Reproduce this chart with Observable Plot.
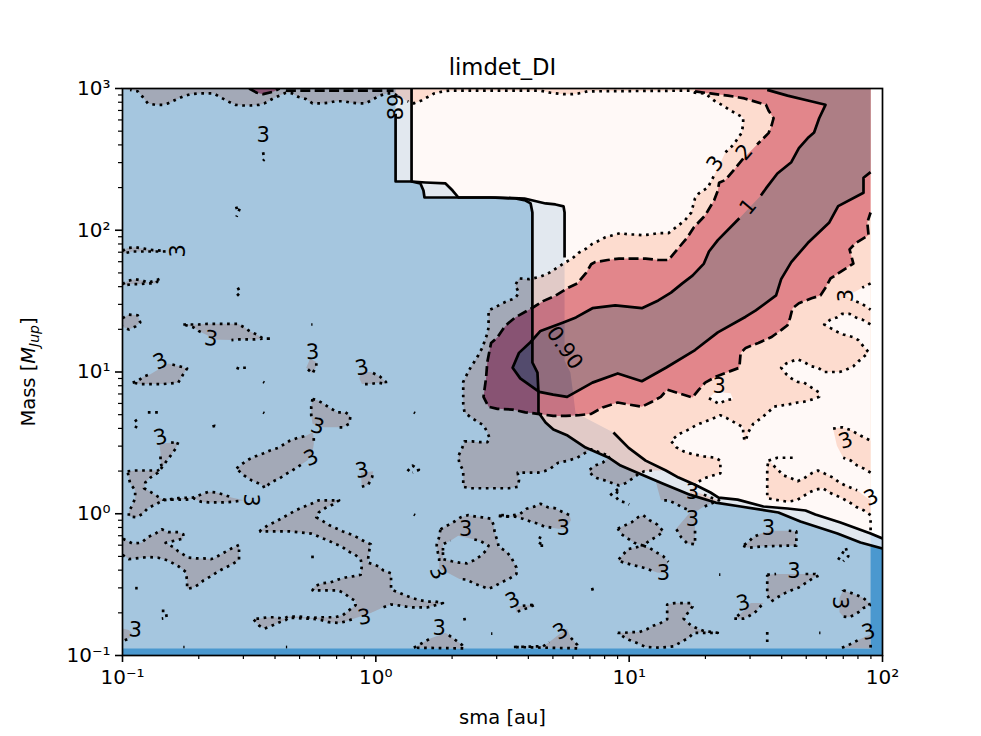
<!DOCTYPE html>
<html><head><meta charset="utf-8">
<style>html,body{margin:0;padding:0;background:#fff}svg{display:block}</style>
<script src="https://cdn.jsdelivr.net/npm/d3@7"></script>
<script src="https://cdn.jsdelivr.net/npm/@observablehq/plot@0.6"></script>
</head><body><script>
// All contour vertices are [log10(sma / au), log10(mass / M_Jup)]
const innerDI = [[.078,2.821],[.078,2.344],[.141,2.344],[.176,2.33],[.188,2.28],[.192,2.231],[.453,2.231],[.551,2.224],[.591,2.21],[.611,2.189],[.618,2.125],[.618,1.067],[.638,.996],[.642,.855],[.642,.714],[.67,.644],[.701,.594],[.757,.552],[.828,.467],[.918,.397],[.966,.34],[1.037,.285],[1.132,.214],[1.242,.133],[1.341,.079],[1.44,.051],[1.589,.009],[1.676,-.055],[1.822,-.139],[1.913,-.203],[2,-.245]];
const outerTop = [[.141,3],[.141,2.344],[.196,2.337],[.275,2.33],[.303,2.28],[.326,2.231],[.472,2.231],[.587,2.224],[.67,2.189],[.709,2.182],[.741,2.168],[.745,2.125],[.745,1.808]];
const outerGapEdge = [[.745,1.081],[.768,.996],[.78,.834],[.788,.714],[.847,.658]];
const outerMid = [[.938,.573],[.998,.465],[1.065,.375],[1.145,.305],[1.195,.255]];
const outerRight = [[1.26,.205],[1.321,.15],[1.353,.114],[1.428,.1],[1.53,.051],[1.625,.037],[1.696,.023],[1.735,-.005],[1.834,-.062],[1.953,-.139]];
const outerEnd = [[2,-.175]];

const dotLobeA = [[1.26,.155],[1.295,.135],[1.32,.115],[1.355,.095],[1.32,.07],[1.29,.045],[1.26,.01],[1.26,-.12],[1.26,-.215],[1.23,-.21],[1.205,-.165],[1.185,-.105]];
const dotLobeB = [[1.245,.02],[1.21,.045],[1.185,.07],[1.155,.095],[1.125,.095]];
const dotMainB = [[1.09,.305],[1.06,.30],[1.04,.285],[1.015,.25],[.985,.215],[.96,.20],[.935,.215],[.905,.235],[.875,.25],[.855,.27],[.84,.305],[.865,.34],[.895,.36],[.925,.405],[.85,.455],[.795,.395],[.76,.375],[.72,.36],[.69,.32],[.665,.30],[.64,.29],[.605,.29],[.56,.29],[.565,.235],[.56,.19],[.525,.18],[.495,.18],[.465,.18],[.44,.18],[.405,.18],[.375,.18],[.345,.19],[.345,.25],[.345,.305],[.33,.355],[.325,.405],[.34,.46],[.35,.51],[.38,.51],[.41,.505],[.44,.505],[.45,.53],[.44,.575],[.425,.625],[.40,.65],[.375,.68],[.35,.715],[.345,.775],[.345,.825],[.345,.88],[.345,.93],[.36,.985],[.375,1.035],[.39,1.075],[.405,1.12],[.42,1.17],[.44,1.27],[.445,1.315],[.445,1.38],[.445,1.435],[.47,1.455],[.50,1.485],[.525,1.505],[.55,1.52],[.565,1.56],[.55,1.61],[.56,1.645],[.565,1.66],[.605,1.655],[.645,1.67],[.68,1.695],[.71,1.73],[.75,1.775],[.775,1.80],[.80,1.84],[.83,1.87],[.855,1.905],[.885,1.93],[.905,1.95],[.935,1.965],[.965,1.98],[1.0,1.97],[1.025,1.97],[1.055,1.965],[1.085,1.97],[1.115,1.98],[1.155,1.98],[1.195,2.035],[1.22,2.07],[1.245,2.125],[1.26,2.225],[1.275,2.26],[1.31,2.30],[1.335,2.385]];
const dotMainD = [[1.38,2.55],[1.41,2.60],[1.43,2.65],[1.445,2.69],[1.45,2.755],[1.45,2.795],[1.40,2.845],[1.37,2.88],[1.335,2.915],[1.30,2.965],[1.26,2.97],[1.245,2.985],[.835,2.98],[.80,2.965],[.775,2.96],[.74,2.96],[.69,2.97],[.65,2.985],[.29,2.985],[.265,2.98],[.23,2.965],[.205,2.94],[.18,2.915],[.15,2.895],[.125,2.91],[.07,2.965],[.045,2.965],[.015,2.95],[-.01,2.925],[-.04,2.895],[-.065,2.895],[-.10,2.90],[-.125,2.91],[-.16,2.91],[-.185,2.90],[-.215,2.895],[-.25,2.895],[-.275,2.925],[-.305,2.94],[-.33,2.965],[-.355,2.97],[-.38,2.95],[-.405,2.93],[-.44,2.895],[-.46,2.885],[-.495,2.88],[-.525,2.88],[-.555,2.885],[-.585,2.91],[-.615,2.94],[-.64,2.965],[-.665,2.965],[-.70,2.965],[-.73,2.96],[-.76,2.945],[-.785,2.925],[-.82,2.895],[-.84,2.885],[-.87,2.885],[-.90,2.895],[-.92,2.94],[-.94,2.98],[-.97,2.99]];

const holeBig = [[1.255,.205],[1.295,.25],[1.33,.27],[1.36,.285],[1.36,.375],[1.34,.395],[1.295,.405],[1.25,.42],[1.215,.44],[1.185,.47],[1.165,.515],[1.195,.56],[1.23,.59],[1.27,.63],[1.30,.65],[1.335,.675],[1.36,.695],[1.385,.675],[1.415,.645],[1.45,.61],[1.45,.575],[1.455,.515],[1.46,.515],[1.47,.575],[1.49,.635],[1.525,.68],[1.56,.735],[1.57,.755],[1.605,.765],[1.64,.775],[1.665,.785],[1.69,.79],[1.72,.805],[1.75,.825],[1.75,.855],[1.72,.89],[1.69,.925],[1.665,.93],[1.64,.955],[1.62,.985],[1.60,1.03],[1.62,1.06],[1.64,1.075],[1.665,1.09],[1.69,1.07],[1.72,1.04],[1.745,1.03],[1.77,1.00],[1.805,1.00],[1.83,1.00],[1.855,1.015],[1.885,1.04],[1.905,1.075],[1.925,1.105],[1.945,1.14],[1.925,1.18],[1.905,1.225],[1.885,1.245],[1.845,1.265],[1.825,1.28],[1.795,1.31],[1.77,1.335],[1.795,1.37],[1.82,1.385],[1.84,1.41],[1.87,1.41],[1.895,1.385],[1.92,1.37],[1.953,1.335]];
const wedgeUp = [[1.953,1.625],[1.92,1.595]];
const wedgeTip = [[1.875,1.55],[1.86,1.54]];
const wedgeLow = [[1.885,1.505],[1.915,1.485],[1.953,1.44]];
const holeSmall = [[1.315,.815],[1.325,.805],[1.355,.775],[1.38,.80],[1.41,.81]];
const holeSmallTop = [[1.40,.85],[1.34,.86]];
const bandSliver = [[1.09,.305],[1.145,.305],[1.195,.255],[1.26,.205],[1.235,.14],[1.13,.215],[1.10,.245]];

const sideA1 = [[1.805,.60],[1.84,.61],[1.875,.59],[1.915,.55],[1.953,.515]];
const sideA2 = [[1.953,.29],[1.925,.32],[1.90,.34],[1.875,.375],[1.845,.395]];
const sideB1 = [[1.57,.34],[1.61,.27],[1.64,.25],[1.665,.23],[1.69,.25],[1.72,.285],[1.745,.305],[1.77,.285],[1.805,.255],[1.83,.22],[1.865,.19],[1.90,.165],[1.925,.13],[1.953,.095]];
const sideB2 = [[1.953,-.01],[1.925,.025],[1.895,.05],[1.87,.08],[1.84,.11],[1.815,.13],[1.79,.15],[1.765,.18],[1.735,.17],[1.71,.15],[1.685,.12],[1.66,.095],[1.625,.085],[1.59,.095],[1.545,.11],[1.545,.15],[1.545,.215],[1.545,.27],[1.545,.325],[1.55,.375]];

const isleEdges = [
 [[-1,1.855],[-.98,1.875],[-.95,1.88],[-.915,1.87],[-.88,1.86],[-.84,1.855],[-.80,1.855],[-.84,1.85],[-.87,1.85],[-.90,1.85],[-.93,1.85],[-.96,1.85],[-1,1.835]],
 [[-1,1.62],[-.975,1.645],[-.95,1.655],[-.92,1.645],[-.90,1.63],[-.87,1.645],[-.85,1.66],[-.87,1.625],[-.90,1.625],[-.93,1.62],[-.96,1.62],[-1,1.61]],
 [[-1,1.38],[-.975,1.405],[-.94,1.40],[-.93,1.35],[-.95,1.32],[-.975,1.30],[-1,1.32]],
 [[-1,-.29],[-.975,-.32],[-.95,-.315],[-.92,-.31],[-.90,-.305],[-.86,-.31],[-.82,-.33],[-.78,-.37],[-.75,-.41],[-.745,-.475],[-.745,-.53],[-.72,-.52],[-.70,-.50],[-.68,-.47],[-.65,-.44],[-.625,-.41],[-.60,-.385],[-.57,-.36],[-.54,-.325],[-.54,-.22],[-.57,-.245],[-.60,-.275],[-.635,-.31],[-.65,-.32],[-.68,-.315],[-.71,-.315],[-.74,-.31],[-.78,-.265],[-.80,-.235],[-.83,-.205],[-.76,-.175],[-.76,-.145],[-.78,-.13],[-.82,-.13],[-.845,-.11],[-.87,-.14],[-.90,-.165],[-.925,-.205],[-.96,-.21],[-1,-.175]],
 [[-1,-.81],[-.975,-.82],[-.96,-.85],[-.975,-.88],[-1,-.90]],
 [[1.84,-.945],[1.88,-.915],[1.905,-.89],[1.953,-.85],[1.953,-.95]]
];
const isles = [
 [[-.76,1.335],[-.72,1.335],[-.70,1.335],[-.665,1.34],[-.635,1.34],[-.605,1.34],[-.57,1.34],[-.545,1.34],[-.52,1.315],[-.495,1.285],[-.465,1.26],[-.445,1.235],[-.41,1.235],[-.445,1.235],[-.48,1.23],[-.505,1.23],[-.54,1.23],[-.57,1.225],[-.65,1.23],[-.665,1.26],[-.70,1.29],[-.72,1.315]],
 [[-.96,.925],[-.94,.935],[-.92,.965],[-.89,.985],[-.82,1.06],[-.775,1.04],[-.745,1.025],[-.76,.985],[-.78,.925],[-.81,.92],[-.84,.915],[-.87,.915],[-.90,.915],[-.93,.915]],
 [[-.98,.30],[-.95,.305],[-.92,.305],[-.885,.305],[-.86,.305],[-.845,.325],[-.85,.375],[-.85,.43],[-.855,.495],[-.78,.505],[-.79,.46],[-.81,.41],[-.825,.375],[-.845,.325],[-.86,.29],[-.89,.255],[-.91,.22],[-.915,.18],[-.89,.155],[-.86,.12],[-.84,.10],[-.82,.10],[-.78,.11],[-.72,.115],[-.685,.14],[-.66,.155],[-.63,.15],[-.60,.135],[-.57,.115],[-.52,.095],[-.565,.085],[-.60,.08],[-.63,.08],[-.66,.08],[-.69,.085],[-.72,.11],[-.745,.10],[-.785,.10],[-.815,.10],[-.84,.095],[-.87,.065],[-.90,.04],[-.92,0],[-.945,-.025],[-.975,-.02],[-.975,.015],[-.96,.065],[-.95,.11],[-.95,.165],[-.97,.215],[-.975,.255]],
 [[-.25,.81],[-.23,.80],[-.205,.775],[-.18,.745],[-.15,.715],[-.12,.715],[-.10,.69],[-.105,.635],[-.13,.61],[-.155,.61],[-.22,.61],[-.25,.635],[-.255,.695],[-.255,.755]],
 [[-.55,.32],[-.525,.355],[-.50,.385],[-.475,.405],[-.445,.425],[-.42,.445],[-.385,.465],[-.34,.515],[-.31,.535],[-.275,.55],[-.25,.575],[-.245,.54],[-.245,.49],[-.25,.435],[-.27,.375],[-.305,.335],[-.33,.305],[-.355,.28],[-.38,.25],[-.415,.22],[-.44,.18],[-.445,.2],[-.49,.235],[-.52,.27],[-.545,.31]],
 [[-.06,1.00],[-.02,1.00],[.015,.97],[.04,.93],[.04,.915],[.01,.925],[-.02,.915],[-.055,.915],[-.065,.955]],
 [[-.26,1.095],[-.235,1.07],[-.235,1.04],[-.25,.99],[-.275,1.03],[-.265,1.07]],
 [[-.06,.29],[-.01,.30],[-.015,.255],[-.03,.205],[-.055,.19]],
 [[-.46,-.125],[-.425,-.08],[-.40,-.06],[-.37,-.03],[-.345,-.005],[-.315,.025],[-.29,.045],[-.255,.07],[-.225,.095],[-.195,.095],[-.175,.095],[-.145,.095],[-.17,.065],[-.20,.04],[-.225,.01],[-.235,-.025],[-.215,-.045],[-.185,-.08],[-.16,-.10],[-.13,-.125],[-.10,-.145],[-.075,-.165],[-.045,-.195],[-.02,-.215],[-.025,-.25],[-.03,-.31],[-.03,-.345],[.01,-.37],[.03,-.40],[.06,-.42],[.06,-.485],[.06,-.535],[.09,-.555],[.115,-.575],[.145,-.595],[.175,-.61],[.205,-.62],[.235,-.62],[.265,-.63],[.235,-.645],[.205,-.66],[.175,-.66],[.145,-.66],[.12,-.655],[.085,-.645],[.06,-.64],[.03,-.66],[-.02,-.70],[-.12,-.76],[-.145,-.77],[-.185,-.765],[-.215,-.75],[-.25,-.74],[-.275,-.74],[-.31,-.735],[-.345,-.735],[-.355,-.75],[-.38,-.765],[-.405,-.785],[-.44,-.81],[-.46,-.79],[-.485,-.74],[-.46,-.74],[-.425,-.73],[-.40,-.73],[-.365,-.74],[-.345,-.725],[-.31,-.725],[-.275,-.73],[-.245,-.735],[-.215,-.73],[-.185,-.73],[-.16,-.73],[-.13,-.715],[-.105,-.68],[-.08,-.645],[-.08,-.615],[-.105,-.59],[-.125,-.56],[-.15,-.54],[-.185,-.54],[-.215,-.54],[-.25,-.54],[-.24,-.51],[-.21,-.49],[-.18,-.485],[-.15,-.465],[-.12,-.45],[-.085,-.44],[-.06,-.43],[-.055,-.365],[-.06,-.32],[-.085,-.285],[-.11,-.265],[-.135,-.23],[-.165,-.21],[-.185,-.19],[-.215,-.17],[-.245,-.145],[-.255,-.14],[-.31,-.13],[-.34,-.125],[-.365,-.125],[-.40,-.125],[-.425,-.125]],
 [[.255,-.11],[.285,-.08],[.31,-.055],[.335,-.025],[.365,-.01],[.395,-.02],[.42,-.025],[.455,-.035],[.465,-.08],[.47,-.14],[.48,-.19],[.485,-.235],[.515,-.265],[.535,-.31],[.555,-.38],[.555,-.425],[.525,-.46],[.495,-.485],[.465,-.515],[.445,-.53],[.415,-.51],[.385,-.49],[.36,-.465],[.33,-.46],[.25,-.385],[.25,-.315],[.245,-.275],[.24,-.22],[.25,-.165]],
 [[.15,-.945],[.18,-.915],[.215,-.88],[.275,-.84],[.31,-.885],[.34,-.925],[.35,-.95]],
 [[.485,-.015],[.52,-.02],[.545,-.01],[.57,.0],[.595,.035],[.625,.05],[.65,.07],[.68,.045],[.705,.04],[.74,.01],[.765,-.01],[.77,-.045],[.75,-.105],[.72,-.105],[.665,-.09],[.64,-.07],[.61,-.055],[.58,-.035],[.55,-.02]],
 [[.955,-.105],[.98,-.085],[1.01,-.06],[1.035,-.025],[1.055,-.01],[1.08,-.045],[1.11,-.075],[1.135,-.125],[1.11,-.16],[1.08,-.19],[1.055,-.225],[1.08,-.24],[1.11,-.275],[1.135,-.30],[1.155,-.34],[1.135,-.42],[1.11,-.415],[1.065,-.385],[1.035,-.37],[1.01,-.36],[.98,-.345],[.955,-.33],[.975,-.29],[.995,-.25],[1.02,-.24],[1.055,-.225],[1.02,-.205],[.995,-.175],[.97,-.145]],
 [[.955,-.84],[.98,-.84],[1.01,-.835],[1.04,-.835],[1.07,-.815],[1.095,-.79],[1.125,-.77],[1.15,-.745],[1.15,-.64],[1.18,-.63],[1.21,-.63],[1.245,-.63],[1.25,-.655],[1.215,-.74],[1.245,-.79],[1.27,-.81],[1.30,-.83],[1.33,-.835],[1.35,-.84],[1.31,-.84],[1.285,-.84],[1.255,-.84],[1.235,-.875],[1.205,-.905],[1.175,-.935],[1.125,-.945],[1.065,-.94],[1.035,-.915],[1.0,-.89],[.98,-.87]],
 [[1.45,-.225],[1.47,-.24],[1.53,-.23],[1.62,-.225],[1.66,-.225],[1.66,-.125],[1.63,-.12],[1.56,-.12],[1.52,-.14],[1.49,-.165],[1.47,-.20]],
 [[1.545,-.43],[1.58,-.425],[1.735,-.425],[1.75,-.435],[1.725,-.455],[1.70,-.485],[1.67,-.52],[1.64,-.54],[1.615,-.56],[1.585,-.59],[1.56,-.62],[1.545,-.575],[1.545,-.54],[1.545,-.485]],
 [[1.415,-.74],[1.45,-.74],[1.475,-.72],[1.50,-.69],[1.53,-.63],[1.48,-.63],[1.455,-.68]],
 [[1.845,-.54],[1.87,-.555],[1.90,-.575],[1.925,-.595],[1.945,-.625],[1.95,-.645],[1.925,-.665],[1.905,-.695],[1.87,-.73],[1.845,-.725],[1.83,-.695],[1.83,-.595]],
 [[.55,-.655],[.63,-.64],[.60,-.665],[.57,-.68],[.555,-.70]],
 [[.545,-.94],[.66,-.935],[.685,-.905],[.72,-.855],[.755,-.81],[.77,-.875],[.795,-.925],[.80,-.95]]
];
const ringHole = [[.265,-.26],[.265,-.215],[.295,-.19],[.325,-.155],[.41,-.19],[.445,-.225],[.435,-.26],[.415,-.295],[.385,-.33],[.36,-.35],[.33,-.345],[.30,-.335],[.265,-.32]];
const specks = [
 [[-.445,2.55],[-.44,2.50],[-.445,2.49]],
 [[-.555,2.155],[-.535,2.165],[-.545,2.115],[-.55,2.095]],
 [[-.545,1.595],[-.535,1.56],[-.55,1.535]],
 [[-.255,1.335],[-.25,1.335]],
 [[-.55,1.03],[-.535,1.02],[-.525,1.03],[-.50,1.03]],
 [[-.445,.93],[-.44,.925]],
 [[-.445,.715],[-.44,.71]],
 [[-.90,.715],[-.88,.715],[-.85,.715]],
 [[-.95,.665],[-.94,.635],[-.95,.60]],
 [[-.645,.615],[-.635,.62],[-.63,.61]],
 [[.15,.715],[.155,.71]],
 [[.125,.30],[.145,.34],[.17,.31],[.145,.29]],
 [[.15,-.005],[.155,-.01]],
 [[-.25,-.295],[-.25,-.335]],
 [[-.95,-.525],[-.94,-.525]],
 [[-.845,-.685],[-.83,-.685],[-.825,-.735],[-.845,-.74]],
 [[-.76,-.94],[-.755,-.94]],
 [[-.355,-.94],[-.35,-.94]],
 [[.345,-.745],[.365,-.74]],
 [[.455,-.845],[.46,-.845]],
 [[.495,-.01],[.51,-.01]],
 [[.65,-.16],[.64,-.20],[.665,-.225],[.645,-.225]],
 [[.85,-.535],[.86,-.53]],
 [[.925,.13],[.96,.18],[.945,.125],[.96,.09],[.985,.08],[1.0,.065]],
 [[1.355,-.43],[1.36,-.43]],
 [[1.55,.375],[1.585,.395],[1.62,.395],[1.65,.395]],
 [[1.825,-.325],[1.84,-.285],[1.855,-.24],[1.865,-.30],[1.845,-.335]],
 [[1.545,-.835],[1.545,-.875],[1.545,-.93]],
 [[1.75,-.84],[1.755,-.84]],
 [[1.953,-.045],[1.953,-.12]]
];
const dashMainA = [[1.26,2.98],[1.32,2.965],[1.39,2.95],[1.455,2.93],[1.54,2.885],[1.55,2.845],[1.57,2.79],[1.56,2.725],[1.55,2.685],[1.525,2.64],[1.505,2.605]];
const dashMainB = [[1.45,2.505],[1.42,2.44],[1.38,2.355],[1.355,2.335],[1.35,2.28],[1.335,2.21],[1.30,2.105],[1.255,2.02],[1.23,1.95],[1.19,1.865],[1.155,1.79],[1.115,1.79],[1.065,1.80],[1.015,1.80],[.96,1.80],[.915,1.79],[.865,1.775],[.85,1.76],[.83,1.70],[.795,1.625],[.755,1.59],[.71,1.54],[.66,1.50],[.62,1.455],[.55,1.385],[.52,1.34],[.505,1.31],[.48,1.245],[.455,1.205],[.44,1.07],[.435,.955],[.425,.825],[.445,.755],[.48,.74],[.54,.735],[.59,.715],[.64,.705],[.70,.69],[.75,.69],[.80,.695],[.85,.705],[.895,.75],[.955,.785],[1.0,.77],[1.05,.755],[1.09,.79],[1.125,.825],[1.15,.875],[1.195,.85],[1.25,.82],[1.275,.875],[1.30,.925],[1.34,.965],[1.375,.99],[1.435,1.03],[1.44,1.135],[1.46,1.17],[1.51,1.205],[1.56,1.245],[1.60,1.295],[1.625,1.33],[1.635,1.38],[1.645,1.45],[1.67,1.485],[1.72,1.52],[1.755,1.54],[1.775,1.595],[1.795,1.66],[1.825,1.695],[1.885,1.765],[1.87,1.865],[1.895,1.91],[1.945,1.965],[1.94,2.055],[1.953,2.125]];
const dashTopBlob = [[-.50,3],[-.47,2.97],[-.445,2.96],[-.40,2.98],[-.38,3]];
const dashTopRun = [[-.355,2.985],[.07,2.985]];
const solidA = [[1.545,2.99],[1.625,2.95],[1.705,2.915],[1.775,2.885],[1.75,2.79],[1.73,2.69],[1.705,2.65],[1.67,2.58],[1.64,2.48],[1.585,2.40],[1.54,2.295],[1.52,2.245]];
const solidB = [[1.435,2.085],[1.35,1.93],[1.315,1.85],[1.295,1.765],[1.25,1.68],[1.21,1.625],[1.165,1.56],[1.115,1.505],[1.05,1.45],[.945,1.47],[.855,1.45],[.79,1.385],[.74,1.35],[.65,1.29],[.61,1.21],[.565,1.135],[.54,1.03],[.57,.955],[.645,.86],[.70,.84],[.755,.825],[.855,.925],[.955,.99],[1.05,.935],[1.145,1.03],[1.26,1.155],[1.35,1.28],[1.46,1.39],[1.50,1.435],[1.58,1.54],[1.60,1.655],[1.64,1.775],[1.705,1.91],[1.79,2.055],[1.825,2.17],[1.925,2.265],[1.925,2.37],[1.953,2.41]];

const labelText = ["3","3","3","3","3","3","3","3","3","3","3","3","3","3","3","3","3","3","3","3","3","3","3","3","3","3","3","3","3","3","3","3","2","1","0.90","89"];
const labelSma = [-.445,-.78,-.85,-.65,-.25,-.055,-.23,-.255,-.85,-.495,-.95,-.045,-.055,.355,.245,.25,.54,.74,.73,1.135,1.25,1.25,1.55,1.65,1.45,1.83,1.945,1.955,1.855,1.355,1.855,1.34,1.455,1.47,.745,.08];
const labelMass = [2.67,1.855,1.075,1.235,1.14,1.03,.615,.395,.54,.095,-.82,-.73,.305,-.11,-.415,-.81,-.61,-.105,-.83,-.42,-.04,.155,-.105,-.405,-.63,-.63,-.835,.115,.515,.90,1.54,2.47,2.55,2.165,1.17,2.87];
const labelAngle = [0,-90,-25,8,-3,-12,15,-25,-15,90,3,-10,-10,0,65,0,-25,0,-30,0,0,0,0,0,-15,90,-15,-25,-20,0,-90,-55,-50,-50,55,-90];

const xMajor = [0.1,1,10,100];
const yMajor = [0.1,1,10,100,1000];
const sup = {"-1":"10⁻¹","0":"10⁰","1":"10¹","2":"10²","3":"10³"};
const fmt = d => sup[Math.round(Math.log10(d))];
const minorOf = (lo,hi) => d3.range(lo,hi).flatMap(e => [2,3,4,5,6,7,8,9].map(m => m*10**e));

const LEVEL0="#fff5f0", LEVEL1="#fcbba1", LEVEL2="#c7101a", LEVEL3="#5d000d";
const BLUE_LIGHT="#c6dbef", BLUE_STRONG="#4a98cf";
const rows = (poly,id,color) => poly.map(([a,b]) => ({sma:10**a,mass:10**b,id,color}));

const blueRows = [
  ...rows([[-1,3],...outerTop,...outerGapEdge,...outerMid,...outerRight,...outerEnd,[2,-1],[-1,-1]],"light",BLUE_LIGHT),
  ...rows([[-1,3],[.078,3],...innerDI,[2,-1],[-1,-1]],"strong",BLUE_STRONG)
];
const EDGE=1.953, FLOOR=-.95;
const mainPoly = [[-1,3],[EDGE,3],[EDGE,-.14],...outerRight.slice().reverse(),...dotLobeA,...dotLobeB,[1.115,.16],[1.105,.23],...dotMainB,...dotMainD];
let redRows = [
  ...rows([[-1,FLOOR],[EDGE,FLOOR],[EDGE,3],[-1,3]],"L0",LEVEL0),
  ...rows(mainPoly,"main",LEVEL1),
  ...rows(bandSliver,"sliver",LEVEL0),
  ...rows([...holeBig,[EDGE,-.139],...outerRight.slice().reverse()],"holeBig",LEVEL0),
  ...rows([...wedgeUp,...wedgeTip,...wedgeLow],"wedge",LEVEL0),
  ...rows([...holeSmall,...holeSmallTop],"holeSmall",LEVEL0),
  ...rows([...sideA1,...sideA2,[1.82,.48]],"sideA",LEVEL1),
  ...rows([...sideB1,...sideB2],"sideB",LEVEL1),
  ...isleEdges.flatMap((p,i)=>rows(p,"edge"+i,LEVEL1)),
  ...isles.flatMap((p,i)=>rows(p,"isle"+i,LEVEL1)),
  ...rows(ringHole,"ringHole",LEVEL0),
  ...rows([[1.26,3],[EDGE,3],[EDGE,2.125],...dashMainB.slice().reverse(),...dashMainA.slice().reverse()],"L2",LEVEL2),
  ...rows([[-.50,3],...dashTopBlob],"L2top",LEVEL2),
  ...rows([[EDGE,3],[EDGE,2.41],...solidB.slice().reverse(),...solidA.slice().reverse(),[1.545,3]],"L3",LEVEL3)
];
const closed = p => [...p,p[0]];
// contour labels sit in a gap of their line, as clabel's inline option does
const nearLabel = (a,b) => labelSma.some((u,i)=>Math.hypot((a-u)*253.33,(b-labelMass[i])*141.75)<11.5);
function cutAtLabels(line){
  const out=[]; let run=[];
  for(let i=0;i<line.length-1;i++){
    const [a0,b0]=line[i],[a1,b1]=line[i+1];
    for(let k=0;k<8;k++){
      const a=a0+(a1-a0)*k/8,b=b0+(b1-b0)*k/8;
      if(nearLabel(a,b)){ if(run.length>1) out.push(run); run=[]; }
      else if(k===0||run.length===0) run.push([a,b]);
    }
  }
  const last=line[line.length-1];
  if(!nearLabel(...last)) run.push(last);
  if(run.length>1) out.push(run);
  return out;
}
const dottedLines = [dotLobeA,dotLobeB,dotMainB,dotMainD,holeBig,wedgeUp,wedgeLow,holeSmall,sideA1,sideA2,sideB1,sideB2,...isleEdges,...isles.map(closed),closed(ringHole)].flatMap(cutAtLabels).concat(specks);
const dashedLines = [dashMainA,dashMainB,dashTopBlob,dashTopRun];
const solidLines = [solidA,solidB,innerDI,outerTop,[...outerMid,...outerRight,...outerEnd]];
const lineRows = list => list.flatMap((p,i)=>rows(p,"c"+i,"black"));
const labels = labelText.map((t,i)=>({t,sma:10**labelSma[i],mass:10**labelMass[i],a:labelAngle[i]}));

const F = "DejaVu Sans";
const groupOpacity = (index,scales,values,dims,ctx,next) => { const g = next(index,scales,values,dims,ctx); g.setAttribute("opacity",0.5); return g; };
const lineOpts = {x:"sma",y:"mass",z:"id",clip:true};
const svg = Plot.plot({
  width:981,height:736,marginLeft:122,marginRight:99,marginTop:88,marginBottom:81,
  style:{fontFamily:F,background:"#fff"},
  x:{type:"log",domain:[0.1,100]},
  y:{type:"log",domain:[0.1,1000]},
  color:{type:"identity"},
  marks:[
    Plot.line(blueRows,{...lineOpts,fill:"color",stroke:"none"}),
    Plot.line(redRows,{...lineOpts,fill:"color",stroke:"none",render:groupOpacity}),
    Plot.line(lineRows(dottedLines),{...lineOpts,stroke:"#000",strokeWidth:2.7,strokeDasharray:"2.7 4.6",strokeLinecap:"butt",strokeLinejoin:"round"}),
    Plot.line(lineRows(dashedLines),{...lineOpts,stroke:"#000",strokeWidth:2.7,strokeDasharray:"10 4.4",strokeLinecap:"butt"}),
    Plot.line(lineRows(solidLines),{...lineOpts,stroke:"#000",strokeWidth:2.7,strokeLinejoin:"round",strokeLinecap:"butt"}),
    Plot.text(labels,{x:"sma",y:"mass",text:"t",rotate:"a",fontSize:21,fill:"#000",textAnchor:"middle",lineAnchor:"middle",fontFamily:F}),
    Plot.axisX({ticks:xMajor,tickFormat:fmt,tickSize:7,tickPadding:7,fontSize:20,label:null,strokeWidth:1.6,fontFamily:F}),
    Plot.axisX({ticks:minorOf(-1,2),tickFormat:()=>"",tickSize:4,label:null,strokeWidth:1.2}),
    Plot.axisY({ticks:yMajor,tickFormat:fmt,tickSize:7,tickPadding:5,fontSize:20,label:null,strokeWidth:1.6,fontFamily:F}),
    Plot.axisY({ticks:minorOf(-1,3),tickFormat:()=>"",tickSize:4,label:null,strokeWidth:1.2}),
    Plot.frame({stroke:"#000",strokeWidth:1.7}),
    Plot.text(["limdet_DI"],{frameAnchor:"top",dy:-21,fontSize:22.7,fill:"#000",lineAnchor:"middle",fontFamily:F}),
    Plot.text(["sma [au]"],{frameAnchor:"bottom",dy:62,fontSize:19.5,fill:"#000",lineAnchor:"middle",fontFamily:F}),
    Plot.text(["Mass [M_Jup]"],{frameAnchor:"left",dx:-94,rotate:-90,fontSize:19.5,fill:"#000",lineAnchor:"middle",textAnchor:"middle",fontFamily:F})
  ]
});
d3.select(svg).selectAll("text").filter(function(){return this.textContent==="Mass [M_Jup]";})
  .each(function(){
    const t = this.querySelector("tspan") || this;
    t.innerHTML = 'Mass [<tspan font-style="italic">M</tspan><tspan font-style="italic" font-size="14" dy="4">Jup</tspan><tspan dy="-4">]</tspan>';
  });
document.body.appendChild(svg);
</script></body></html>
